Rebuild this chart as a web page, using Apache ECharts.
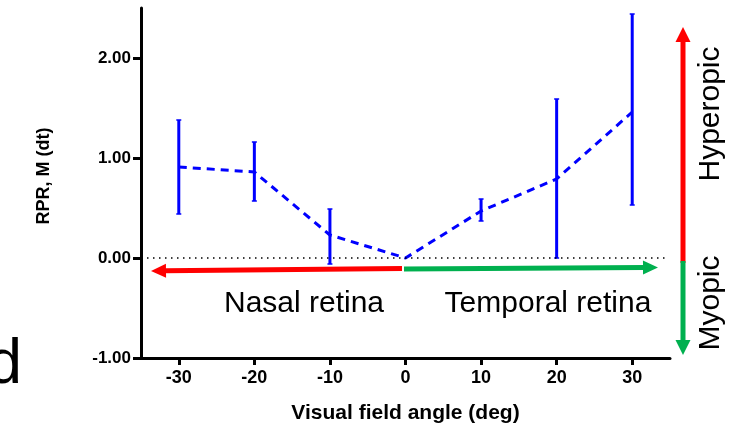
<!DOCTYPE html>
<html>
<head>
<meta charset="utf-8">
<script src="https://cdn.jsdelivr.net/npm/echarts@6/dist/echarts.min.js"></script>
<style>
  html, body { margin: 0; padding: 0; background: #fff; }
  #chart { width: 736px; height: 429px; }
</style>
</head>
<body>
<div id="chart"></div>
<script>
// visual field angle (deg) and mean RPR with error bar ends
var angles = [-30, -20, -10, 0, 10, 20, 30];
var means = [0.91, 0.86, 0.23, 0.00, 0.47, 0.79, 1.46];
var upper = [1.38, 1.16, 0.49, null, 0.59, 1.59, 2.44];
var lower = [0.44, 0.57, -0.06, null, 0.37, 0.00, 0.53];

var xTicks = [-30, -20, -10, 0, 10, 20, 30];
var yTicks = [-1, 0, 1, 2];

var FONT = 'Liberation Sans, Arial, sans-serif';
var BLUE = '#0000ff';
var RED = '#ff0000';
var GREEN = '#00b04f';

var lineData = angles.map(function(a, i) { return [a, means[i]]; });
var barData = [];
angles.forEach(function(a, i) {
  if (upper[i] !== null) barData.push([a, lower[i], upper[i]]);
});

// arrow helper (annotation only, pixel space)
function arrow(x1, y1, x2, y2, color, width, headLen, headW) {
  var dx = x2 - x1, dy = y2 - y1;
  var len = Math.sqrt(dx * dx + dy * dy);
  var ux = dx / len, uy = dy / len;
  var bx = x2 - ux * headLen, by = y2 - uy * headLen;
  var px = -uy * headW / 2, py = ux * headW / 2;
  return {
    type: 'group',
    children: [
      { type: 'line', shape: { x1: x1, y1: y1, x2: bx + ux, y2: by + uy },
        style: { stroke: color, lineWidth: width } },
      { type: 'polygon', shape: { points: [[x2, y2], [bx + px, by + py], [bx - px, by - py]] },
        style: { fill: color } }
    ]
  };
}

var chart = echarts.init(document.getElementById('chart'));

chart.setOption({
  animation: false,
  grid: { left: 141, right: 66, top: 8, bottom: 69 },
  xAxis: {
    type: 'value',
    min: -35,
    max: 35,
    name: 'Visual field angle (deg)',
    nameLocation: 'middle',
    nameGap: 45,
    nameTextStyle: { fontFamily: FONT, fontWeight: 'bold', fontSize: 21, color: '#000' },
    splitLine: { show: false },
    axisLine: { onZero: false, lineStyle: { color: '#000', width: 3 } },
    axisTick: { length: 7, lineStyle: { color: '#000', width: 3 }, customValues: xTicks },
    axisLabel: { customValues: xTicks, margin: 11, fontFamily: FONT, fontWeight: 'bold', fontSize: 18, color: '#000' }
  },
  yAxis: {
    type: 'value',
    min: -1,
    max: 2.5,
    name: 'RPR, M (dt)',
    nameLocation: 'middle',
    nameGap: 88,
    nameTextStyle: { fontFamily: FONT, fontWeight: 'bold', fontSize: 18, color: '#000', padding: [0, 0, 0, 14] },
    splitLine: { show: false },
    axisLine: { onZero: false, lineStyle: { color: '#000', width: 3 } },
    axisTick: { length: 8, lineStyle: { color: '#000', width: 3 }, customValues: yTicks },
    axisLabel: {
      customValues: yTicks, margin: 10, fontFamily: FONT, fontWeight: 'bold', fontSize: 17, color: '#000',
      formatter: function(v) { return v.toFixed(2); }
    }
  },
  series: [
    {
      type: 'line',
      data: lineData,
      symbol: 'none',
      lineStyle: { color: BLUE, width: 3, type: [8, 6] },
      markLine: {
        silent: true,
        symbol: 'none',
        label: { show: false },
        lineStyle: { color: '#000', width: 1.5, type: [1.5, 4.5] },
        data: [[{ coord: [-35, 0] }, { coord: [34.3, 0] }]]
      },
      z: 3
    },
    {
      type: 'custom',
      data: barData,
      renderItem: function(params, api) {
        var x = api.value(0);
        var lo = api.coord([x, api.value(1)]);
        var hi = api.coord([x, api.value(2)]);
        return {
          type: 'group',
          children: [
            { type: 'line', shape: { x1: lo[0], y1: lo[1], x2: hi[0], y2: hi[1] },
              style: { stroke: BLUE, lineWidth: 3 } },
            { type: 'line', shape: { x1: hi[0] - 2.5, y1: hi[1], x2: hi[0] + 2.5, y2: hi[1] },
              style: { stroke: BLUE, lineWidth: 1.5 } },
            { type: 'line', shape: { x1: lo[0] - 2.5, y1: lo[1], x2: lo[0] + 2.5, y2: lo[1] },
              style: { stroke: BLUE, lineWidth: 1.5 } }
          ]
        };
      },
      z: 4
    }
  ],
  graphic: [
    arrow(402, 268.5, 151, 271, RED, 5, 15, 14),
    arrow(404, 269, 658, 267.5, GREEN, 5, 15, 14),
    arrow(683, 263, 683, 27, RED, 5, 15, 15),
    arrow(683, 261, 683, 355, GREEN, 5, 15, 15),
    { type: 'text', x: 304, y: 289, style: { text: 'Nasal retina', font: '30px ' + FONT, fill: '#000', textAlign: 'center', textVerticalAlign: 'top' } },
    { type: 'text', x: 548, y: 289, style: { text: 'Temporal retina', font: '30px ' + FONT, fill: '#000', textAlign: 'center', textVerticalAlign: 'top' } },
    { type: 'text', x: 711, y: 114, rotation: Math.PI / 2, style: { text: 'Hyperopic', font: '30px ' + FONT, fill: '#000', textAlign: 'center', textVerticalAlign: 'middle' } },
    { type: 'text', x: 711, y: 303, rotation: Math.PI / 2, style: { text: 'Myopic', font: '30px ' + FONT, fill: '#000', textAlign: 'center', textVerticalAlign: 'middle' } },
    { type: 'text', x: -13, y: 334, style: { text: 'd', font: '63px ' + FONT, fill: '#000', textVerticalAlign: 'top' } }
  ]
});
</script>
</body>
</html>
